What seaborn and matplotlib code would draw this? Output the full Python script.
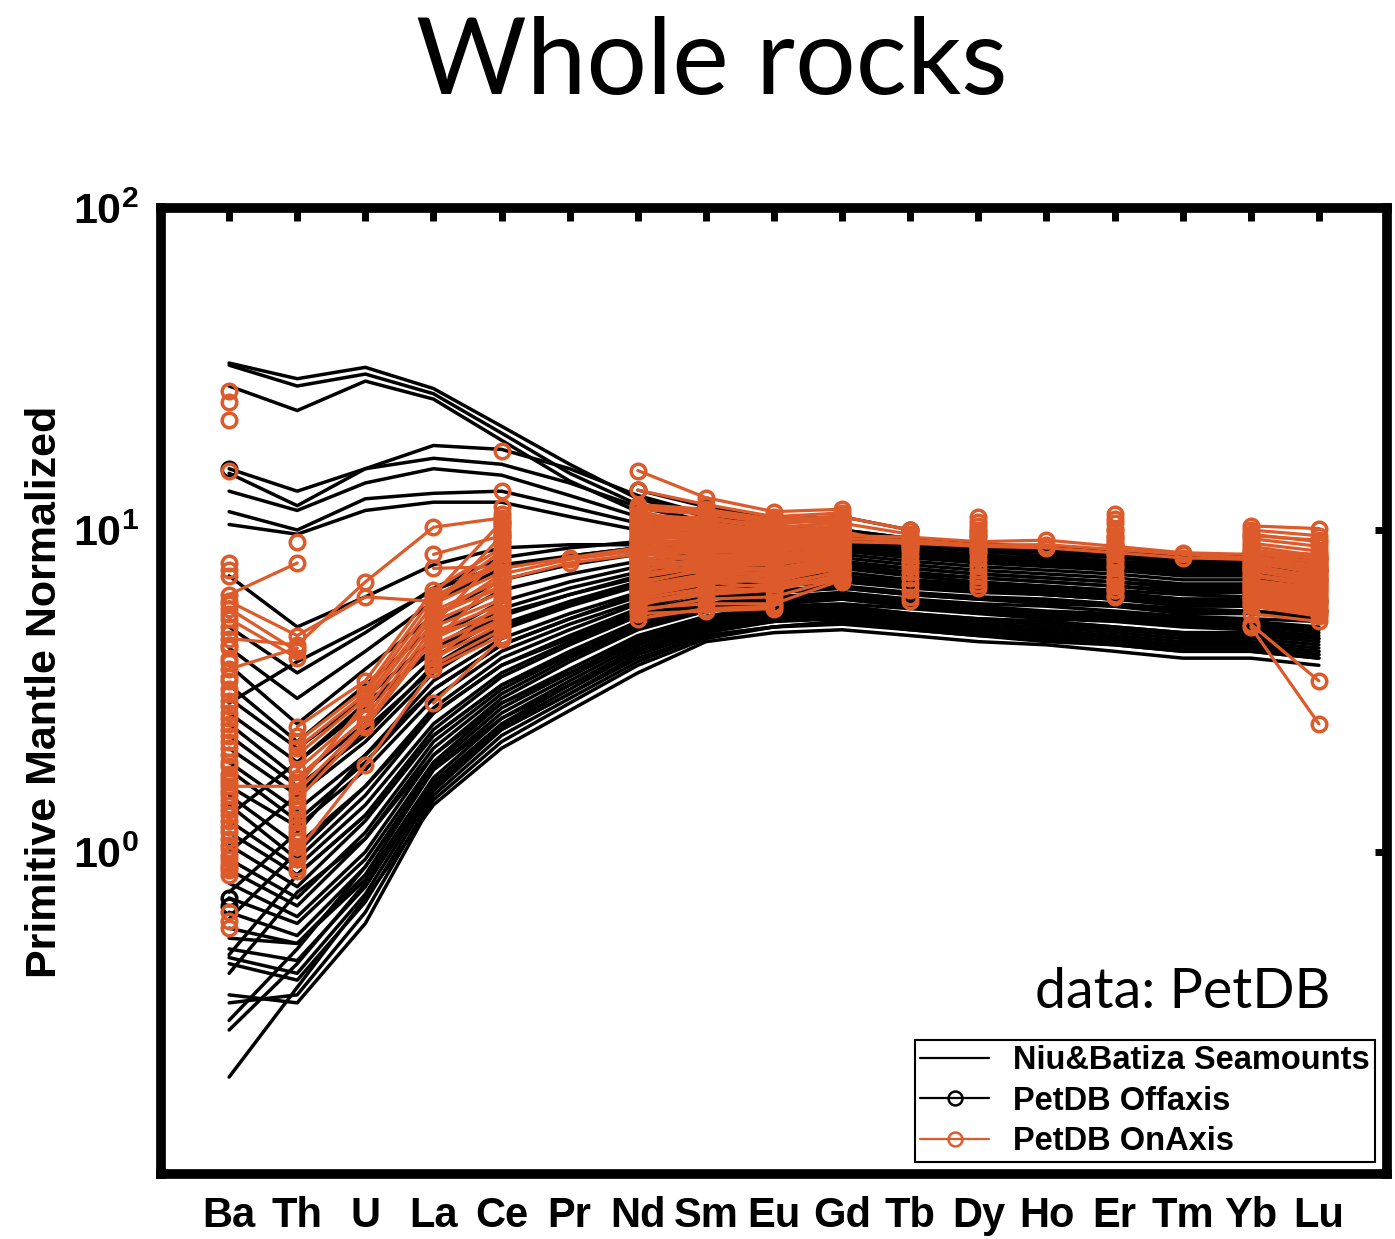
import numpy as np
import pandas as pd
import matplotlib
matplotlib.use("Agg")
import matplotlib.pyplot as plt
import seaborn as sns
from matplotlib.lines import Line2D
from matplotlib.ticker import NullLocator

elements = ["Ba", "Th", "U", "La", "Ce", "Pr", "Nd", "Sm", "Eu", "Gd",
            "Tb", "Dy", "Ho", "Er", "Tm", "Yb", "Lu"]
na = np.nan

# Niu & Batiza seamount lavas (primitive mantle normalized)
seamounts = [
    [33, 29.5, 32, 27.5, 21, 16, 12.5, 11.0, 10.2, 10.0, 9.4, 9.0, 8.7, 8.5, 8.2, 8.3, 8.1],
    [32.5, 28, 30.5, 26.5, 20, 15, 12.0, 10.6, 9.9, 9.7, 9.1, 8.8, 8.5, 8.2, 7.9, 8.0, 7.8],
    [28, 23.5, 29, 25.5, 19, 14.2, 11.4, 10.2, 9.6, 9.4, 8.9, 8.6, 8.3, 8.0, 7.7, 7.8, 7.5],
    [15.5, 13.2, 15.5, 18.3, 17.8, 15.5, 12.8, 11.2, 10.3, 10.0, 9.4, 9.1, 8.8, 8.6, 8.3, 8.4, 8.2],
    [15.0, 11.9, 15.5, 16.7, 16.0, 14.0, 11.8, 10.6, 9.9, 9.7, 9.2, 8.8, 8.6, 8.3, 8.0, 8.1, 7.9],
    [13.2, 11.5, 14.0, 15.5, 14.8, 12.8, 11.0, 10.0, 9.5, 9.4, 8.9, 8.6, 8.3, 8.0, 7.8, 7.8, 7.6],
    [11.4, 10.0, 12.5, 13.0, 13.2, 11.8, 10.5, 9.7, 9.3, 9.2, 8.7, 8.4, 8.1, 7.9, 7.6, 7.6, 7.4],
    [10.4, 9.7, 11.5, 12.2, 12.2, 11.0, 10.0, 9.4, 9.0, 8.9, 8.5, 8.2, 7.9, 7.7, 7.4, 7.4, 7.2],
    [7.2, 5.0, 6.2, 7.8, 8.8, 9.0, 9.0, 8.8, 8.6, 8.7, 8.3, 8.0, 7.8, 7.6, 7.3, 7.3, 7.1],
    [5.0, 3.6, 4.8, 6.6, 8.2, 8.8, 9.2, 9.1, 8.9, 9.0, 8.6, 8.3, 8.1, 7.9, 7.6, 7.6, 7.4],
    [4.3, 3.0, 4.2, 6.0, 7.6, 8.3, 8.8, 8.8, 8.6, 8.8, 8.4, 8.1, 7.9, 7.7, 7.4, 7.4, 7.2],
    [3.8, 2.5, 3.7, 5.4, 7.0, 7.8, 8.4, 8.5, 8.4, 8.6, 8.2, 7.9, 7.7, 7.5, 7.2, 7.2, 7.0],
    [3.3, 2.2, 3.3, 5.0, 6.5, 7.3, 8.0, 8.2, 8.2, 8.4, 8.0, 7.7, 7.5, 7.3, 7.0, 7.0, 6.8],
    [3.0, 2.1, 3.0, 4.6, 6.0, 6.9, 7.7, 8.0, 8.0, 8.2, 7.8, 7.5, 7.3, 7.1, 6.8, 6.8, 6.6],
    [2.7, 1.9, 2.8, 4.3, 5.7, 6.6, 7.4, 7.8, 7.8, 8.0, 7.6, 7.3, 7.1, 6.9, 6.6, 6.6, 6.4],
    [2.5, 1.7, 2.5, 4.0, 5.4, 6.3, 7.1, 7.5, 7.6, 7.8, 7.4, 7.1, 6.9, 6.7, 6.4, 6.4, 6.2],
    [2.3, 1.6, 2.3, 3.8, 5.1, 6.0, 6.9, 7.3, 7.4, 7.6, 7.2, 6.9, 6.7, 6.5, 6.3, 6.2, 6.0],
    [2.1, 1.5, 2.2, 3.6, 4.9, 5.8, 6.7, 7.1, 7.2, 7.4, 7.0, 6.8, 6.6, 6.4, 6.1, 6.1, 5.9],
    [1.9, 1.35, 2.0, 3.4, 4.6, 5.5, 6.4, 6.9, 7.0, 7.2, 6.9, 6.6, 6.4, 6.2, 6.0, 5.9, 5.7],
    [1.8, 1.25, 1.9, 3.2, 4.4, 5.3, 6.2, 6.7, 6.9, 7.1, 6.7, 6.5, 6.3, 6.1, 5.9, 5.8, 5.6],
    [1.6, 1.2, 1.8, 3.0, 4.2, 5.1, 6.0, 6.6, 6.8, 7.0, 6.7, 6.5, 6.3, 6.1, 5.9, 5.8, 5.7],
    [1.5, 1.05, 1.6, 2.8, 4.0, 4.9, 5.9, 6.5, 6.8, 7.1, 6.8, 6.6, 6.4, 6.3, 6.0, 6.0, 5.9],
    [1.4, 0.95, 1.5, 2.7, 3.8, 4.7, 5.7, 6.4, 6.7, 6.9, 6.6, 6.4, 6.3, 6.1, 5.8, 5.8, 5.6],
    [1.25, 0.9, 1.4, 2.5, 3.6, 4.5, 5.5, 6.2, 6.5, 6.7, 6.4, 6.2, 6.1, 5.9, 5.7, 5.6, 5.4],
    [1.15, 0.85, 1.3, 2.4, 3.5, 4.4, 5.4, 6.1, 6.4, 6.6, 6.3, 6.1, 5.9, 5.8, 5.5, 5.5, 5.3],
    [1.05, 0.78, 1.25, 2.3, 3.3, 4.2, 5.2, 5.9, 6.2, 6.4, 6.1, 5.9, 5.8, 5.6, 5.4, 5.3, 5.2],
    [0.95, 0.72, 1.15, 2.2, 3.2, 4.1, 5.1, 5.8, 6.1, 6.3, 6.0, 5.8, 5.6, 5.5, 5.3, 5.2, 5.0],
    [0.88, 0.68, 1.1, 2.1, 3.1, 4.0, 5.0, 5.7, 6.0, 6.2, 5.9, 5.7, 5.5, 5.4, 5.2, 5.1, 4.9],
    [0.8, 0.63, 1.0, 2.0, 3.0, 3.9, 4.9, 5.6, 5.9, 6.1, 5.8, 5.6, 5.4, 5.3, 5.1, 5.0, 4.8],
    [0.72, 0.6, 0.95, 1.9, 2.9, 3.7, 4.7, 5.4, 5.8, 5.9, 5.7, 5.5, 5.3, 5.2, 5.0, 4.9, 4.7],
    [0.65, 0.55, 0.9, 1.85, 2.8, 3.6, 4.6, 5.3, 5.7, 5.8, 5.5, 5.3, 5.2, 5.0, 4.8, 4.8, 4.6],
    [0.58, 0.52, 0.85, 1.8, 2.7, 3.5, 4.5, 5.2, 5.6, 5.7, 5.4, 5.2, 5.1, 4.9, 4.7, 4.7, 4.5],
    [0.54, 0.52, 0.82, 1.7, 2.6, 3.4, 4.4, 5.1, 5.5, 5.6, 5.3, 5.1, 5.0, 4.8, 4.6, 4.6, 4.4],
    [0.5, 0.46, 0.78, 1.65, 2.5, 3.3, 4.3, 5.0, 5.4, 5.5, 5.2, 5.0, 4.9, 4.7, 4.5, 4.5, 4.3],
    [0.47, 0.42, 0.74, 1.6, 2.45, 3.2, 4.2, 4.9, 5.3, 5.4, 5.1, 4.9, 4.8, 4.6, 4.4, 4.4, 4.2],
    [0.45, 0.4, 0.7, 1.55, 2.4, 3.1, 4.1, 4.8, 5.2, 5.3, 5.0, 4.8, 4.7, 4.5, 4.3, 4.3, 4.1],
    [0.36, 0.34, 0.6, 1.45, 2.2, 2.9, 3.8, 4.6, 5.0, 5.1, 4.9, 4.7, 4.5, 4.4, 4.2, 4.2, 4.0],
    [0.34, 0.36, 0.65, 1.5, 2.3, 3.0, 3.9, 4.7, 5.0, 5.2, 5.0, 4.8, 4.6, 4.5, 4.3, 4.3, 4.1],
    [0.28, 0.45, 0.8, 1.6, 2.4, 3.1, 4.0, 4.7, 5.0, 5.2, 4.9, 4.7, 4.6, 4.4, 4.2, 4.2, 4.0],
    [0.2, 0.38, 0.72, 1.4, 2.1, 2.75, 3.6, 4.5, 4.8, 4.9, 4.7, 4.5, 4.4, 4.2, 4.0, 4.0, 3.8],
    [0.42, 0.75, 1.1, 2.0, 2.9, 3.6, 4.5, 5.2, 5.6, 5.8, 5.5, 5.3, 5.2, 5.0, 4.8, 4.8, 4.6],
    [0.48, 0.85, 1.3, 2.3, 3.3, 4.1, 5.0, 5.6, 5.9, 6.1, 5.8, 5.6, 5.5, 5.3, 5.1, 5.1, 4.9],
    [0.62, 1.0, 1.6, 2.7, 3.8, 4.6, 5.6, 6.2, 6.4, 6.6, 6.3, 6.1, 6.0, 5.8, 5.6, 5.6, 5.4],
    [0.75, 1.15, 2.0, 3.2, 4.4, 5.3, 6.3, 6.8, 7.0, 7.2, 6.9, 6.7, 6.5, 6.3, 6.1, 6.1, 5.9],
    [2.9, 3.9, 5.0, 6.5, 7.8, 8.3, 8.8, 8.9, 8.7, 8.9, 8.5, 8.2, 8.0, 7.8, 7.5, 7.5, 7.3],
    [0.3, 0.5, 0.9, 1.8, 2.6, 3.3, 4.2, 4.9, 5.2, 5.4, 5.1, 4.9, 4.8, 4.6, 4.4, 4.4, 4.2],
    [1.0, 1.5, 2.4, 3.7, 5.0, 5.9, 6.8, 7.3, 7.5, 7.7, 7.3, 7.1, 6.9, 6.7, 6.5, 6.5, 6.3],
    [1.3, 1.9, 2.9, 4.2, 5.5, 6.3, 7.2, 7.6, 7.7, 7.9, 7.6, 7.3, 7.1, 6.9, 6.7, 6.7, 6.5],
]

# PetDB off-axis samples
offaxis = [
    [15.5, na, na, na, na, na, 13.3, 11.8, 10.8, 11.0, 10.0, na, na, na, na, na, na],
    [0.72, na, na, na, na, na, 6.5, 6.9, 7.0, 7.3, na, 6.8, na, 6.6, na, 6.3, 6.0],
    [0.68, na, na, na, na, na, 5.4, 5.9, 6.3, 6.9, na, 6.6, na, 6.3, na, 5.8, 5.6],
    [na, na, na, na, na, na, 9.0, 9.3, 9.2, 9.6, 9.0, 8.8, 8.2, 8.4, 8.0, 7.8, 7.5],
]

# PetDB on-axis samples
onaxis = [
    [27, na, na, na, 17.6, na, 15.3, 12.6, 11.4, 11.6, na, 11.0, na, 11.2, na, 10.3, 10.1],
    [25, na, na, na, 13.2, na, 13.3, 12.0, 11.0, 11.3, na, 10.6, na, 10.8, na, 10.0, 9.6],
    [22, na, na, na, 11.8, na, 12.0, 11.6, 10.8, 11.0, 10.0, na, na, na, na, 9.7, 9.2],
    [15.3, na, na, na, 11.2, na, 11.6, 11.2, 10.5, 10.7, na, 10.3, na, 10.5, na, 9.4, 8.9],
    [7.9, na, na, na, 10.6, na, 11.2, 10.8, 10.2, 10.5, 9.7, na, na, 10.1, na, 9.1, 8.6],
    [7.5, na, na, na, 10.2, na, 10.8, 10.5, 10.0, 10.2, na, 9.9, na, na, na, 8.9, 8.3],
    [7.2, na, na, na, 9.8, na, 10.4, 10.2, 9.8, 10.0, na, na, na, 9.6, na, 8.7, 8.1],
    [6.3, 7.9, na, na, 9.4, na, 10.1, 10.0, 9.6, 9.8, na, 9.5, na, 9.3, na, 8.5, 7.9],
    [na, 9.2, na, na, 9.1, na, 9.8, 9.8, 9.4, 9.6, na, na, na, na, na, 8.3, 7.7],
    [4.6, 4.4, 6.9, 10.2, 10.9, na, 11.8, 11.4, 10.6, 10.9, na, 10.0, na, 9.9, na, 9.6, 9.3],
    [6.0, 4.7, 6.2, 6.0, 8.6, na, 9.6, 9.6, 9.2, 9.5, na, 9.2, na, 9.0, na, 8.1, 7.5],
    [3.7, 4.3, na, 8.4, 9.6, na, 9.4, 9.5, 9.1, 9.4, na, na, na, 8.8, na, 8.0, 7.3],
    [5.7, 4.2, na, 7.6, 7.7, na, 9.1, 9.3, 9.0, 9.2, na, 8.9, na, na, na, 7.8, 7.1],
    [5.3, 4.0, na, na, 8.2, na, 8.9, 9.1, 8.8, 9.1, na, na, na, 8.6, na, 7.6, 7.0],
    [na, 2.45, 3.4, 6.5, 8.8, na, 8.7, 8.9, 8.7, 9.0, na, 8.7, na, 8.4, na, 7.5, 6.9],
    [na, 2.2, 3.2, 6.2, 8.0, na, 8.5, 8.8, 8.6, 8.9, na, na, na, na, na, 7.3, 6.8],
    [na, 2.1, 3.1, 5.9, 7.4, na, 8.3, 8.6, 8.4, 8.8, na, 8.4, na, 8.2, na, 7.2, 6.7],
    [na, 2.0, 3.0, 5.6, 7.0, na, 8.1, 8.4, 8.3, 8.7, na, na, na, 8.0, na, 7.0, 6.6],
    [1.6, 1.6, 2.9, 5.4, 6.7, na, 7.9, 8.3, 8.2, 8.6, na, 8.1, na, na, na, 6.9, 6.5],
    [na, 1.8, 2.75, 5.2, 6.4, na, 7.7, 8.1, 8.0, 8.5, na, na, na, 7.8, na, 6.8, 6.4],
    [na, 1.7, 2.6, 5.0, 6.1, na, 7.5, 8.0, 7.9, 8.4, na, 7.8, na, 7.6, na, 6.7, 6.3],
    [na, 1.55, 2.5, 4.8, 5.9, na, 7.3, 7.8, 7.8, 8.3, na, na, na, na, na, 6.6, 6.2],
    [na, 1.45, 2.45, 4.6, 5.7, na, 7.1, 7.7, 7.6, 8.2, na, 7.5, na, 7.3, na, 6.5, 6.1],
    [na, 1.35, na, 4.4, 5.5, na, 6.9, 7.5, 7.5, 8.1, na, na, na, 7.1, na, 6.4, 6.0],
    [na, 1.25, na, 4.2, 5.3, na, 6.7, 7.3, 7.3, 8.0, na, 7.2, na, na, na, 6.3, 5.9],
    [na, 1.15, na, 4.0, 5.1, na, 6.5, 7.1, 7.2, 7.8, na, na, na, 6.9, na, 6.2, 5.8],
    [na, 1.08, na, 3.8, 4.9, na, 6.3, 6.9, 7.0, 7.6, na, 7.0, na, 6.7, na, 6.1, 5.7],
    [na, 1.0, 1.86, 3.7, 4.7, na, 6.1, 6.6, 6.8, 7.4, na, na, na, 6.5, na, 6.0, 5.6],
    [na, 0.95, na, na, 4.6, na, 5.9, 6.3, 6.5, 7.2, na, 6.8, na, 6.3, na, 5.9, 5.5],
    [na, 0.9, na, na, na, na, 5.7, 5.9, 5.9, 7.0, na, na, na, na, na, 5.8, 5.4],
    [na, 0.87, na, 2.9, 4.6, na, 5.3, 5.7, 5.8, na, 6.0, na, na, na, na, 5.5, 5.2],
    [4.3, na, na, na, 10.4, na, 11.0, 10.6, 9.9, 10.1, na, 9.6, na, 9.5, na, 8.6, 8.4],
    [3.4, na, na, na, 9.9, na, 10.6, 10.3, 9.7, 9.9, 9.0, na, na, na, na, 8.4, 8.2],
    [3.1, na, na, na, 9.2, na, 10.3, 10.1, 9.5, 9.7, na, 9.7, na, 9.1, na, 8.2, 7.6],
    [2.85, na, na, na, 6.9, na, 10.0, 9.7, 9.3, 9.3, na, na, na, 8.9, na, 7.9, 7.4],
    [2.6, na, na, na, 6.3, na, 9.3, 9.2, 8.9, 9.0, na, 8.6, na, na, na, 7.7, 7.2],
    [2.4, na, na, na, 5.8, na, 8.0, 7.4, 7.3, 7.8, na, na, na, 7.0, na, 7.5, 7.0],
    [na, na, na, na, 5.4, na, 6.4, 6.9, 6.6, 7.1, na, 6.6, na, 6.5, na, 5.1, 3.4],
    [na, na, na, na, 5.0, na, 5.5, 5.6, 5.7, na, na, na, na, 6.2, na, 5.0, 2.5],
    [na, na, na, 5.3, 7.3, 8.1, 8.6, 9.0, 9.1, 9.4, 9.3, 9.0, 9.0, 8.7, 8.4, 8.2, 8.0],
    [na, na, na, na, 7.0, 7.9, 8.4, 8.8, 9.0, 9.2, 9.1, 8.9, 8.8, 8.5, 8.2, 8.1, 7.8],
    [na, na, na, na, 7.6, 8.2, 8.8, 9.2, 9.3, 9.6, 9.5, 9.2, 9.3, 8.9, 8.5, 8.4, 8.2],
]

# on-axis samples with only some elements reported
onaxis_ba = [5.9, 5.5, 5.0, 4.8, 4.4, 4.0, 3.9, 3.5, 3.2, 2.95, 2.7, 2.5, 2.3, 2.2,
             2.1, 2.0, 1.9, 1.85, 1.75, 1.7, 1.65, 1.55, 1.5, 1.45, 1.4, 1.35, 1.3,
             1.25, 1.2, 1.15, 1.1, 1.05, 1.02, 0.98, 0.95, 0.92, 0.9, 0.88, 0.85,
             0.65, 0.61, 0.58]
onaxis_th = [2.3, 1.95, 1.65, 1.5, 1.4, 1.3, 1.2, 1.12, 1.04, 0.98]
onaxis_tb = [9.4, 9.2, 8.8, 8.6, 8.3, 8.0, 7.7, 7.4, 7.1, 6.8, 6.5, 6.2, 7.9, 8.9]
onaxis_la_ce = [[6.3, 10.6], [5.7, 9.6], [5.1, 8.4], [4.5, 7.2], [3.9, 6.0],
                [4.8, 5.4], [5.5, 6.6], [6.1, 7.8], [4.2, 5.2]]
onaxis_mree = [  # Nd, Sm, Eu, Gd
    [11.5, 10.2, 9.6, 10.4], [10.8, 11.0, 10.1, 10.6], [10.2, 10.8, 10.4, 10.9],
    [9.6, 10.4, 9.9, 10.3], [9.9, 9.4, 9.5, 10.0], [9.2, 10.0, 9.2, 9.8],
    [8.8, 9.6, 9.4, 9.9], [8.4, 9.0, 8.8, 9.5], [9.4, 8.7, 8.5, 9.2],
    [8.0, 8.8, 8.6, 9.1], [7.7, 8.5, 8.9, 9.6], [7.4, 8.2, 8.0, 8.8],
    [7.1, 7.9, 7.8, 8.6], [6.8, 7.6, 7.5, 8.3], [6.6, 7.2, 7.4, 8.1],
    [6.4, 7.0, 6.9, 7.7], [6.2, 6.8, 7.1, 7.9], [6.0, 6.4, 6.6, 7.5],
    [5.8, 6.6, 6.5, 7.3], [5.6, 6.1, 6.2, 7.1], [8.6, 8.0, 8.2, 8.9],
    [10.5, 9.8, 8.9, 9.4], [9.0, 8.3, 7.9, 8.4], [8.2, 7.6, 7.2, 7.6],
    [7.9, 7.3, 6.8, 6.9],
]

orange = "#DD5A2A"


def to_long(rows, tag, start=0):
    # split each sample into runs of consecutive measured elements
    recs = []
    for i, row in enumerate(rows):
        seg = 0
        prev = False
        for j, v in enumerate(row):
            if np.isnan(v):
                prev = False
                continue
            if not prev:
                seg += 1
            recs.append((f"{tag}{i}_{seg}", j + start, v))
            prev = True
    return pd.DataFrame(recs, columns=["unit", "pos", "value"])


sm_df = to_long(seamounts, "s")
off_df = to_long(offaxis, "k")
on_df = pd.concat([
    to_long(onaxis, "o"),
    to_long([[v] for v in onaxis_ba], "b", start=0),
    to_long([[v] for v in onaxis_th], "t", start=1),
    to_long([[v] for v in onaxis_tb], "r", start=10),
    to_long(onaxis_la_ce, "c", start=3),
    to_long(onaxis_mree, "m", start=6),
], ignore_index=True)

sns.set_style("white")
plt.rcParams["font.family"] = ["Liberation Sans", "DejaVu Sans"]
plt.rcParams["text.color"] = "black"
plt.rcParams["mathtext.fontset"] = "custom"
plt.rcParams["mathtext.rm"] = "Liberation Sans"
plt.rcParams["mathtext.bf"] = "Liberation Sans:bold"

fig = plt.figure(figsize=(13.95, 12.39), dpi=100)
ax = fig.add_axes([161 / 1395, 1 - 1174 / 1239, (1387 - 161) / 1395, (1174 - 208) / 1239])
ax.set_yscale("log")

sns.lineplot(data=sm_df, x="pos", y="value", units="unit", estimator=None,
             color="black", linewidth=2.5, sort=False, legend=False, ax=ax)
sns.lineplot(data=off_df, x="pos", y="value", units="unit", estimator=None,
             color="black", linewidth=2.3, marker="o", markersize=10.5, markerfacecolor="none",
             markeredgecolor="black", markeredgewidth=2.5, sort=False, legend=False, ax=ax)
sns.lineplot(data=on_df, x="pos", y="value", units="unit", estimator=None,
             color=orange, linewidth=2.3, marker="o", markersize=10.5, markerfacecolor="none",
             markeredgecolor=orange, markeredgewidth=2.5, sort=False, legend=False, ax=ax)

ax.set_xlim(-1, 17)
ax.set_ylim(0.1, 100)
ax.set_xticks(range(len(elements)))
ax.set_xticklabels(elements, fontsize=30, fontweight="bold", color="black")
ax.set_yticks([1, 10, 100])
ax.set_yticklabels([r"$\mathbf{10^{0}}$", r"$\mathbf{10^{1}}$", r"$\mathbf{10^{2}}$"],
                   fontsize=31, color="black")
ax.yaxis.set_minor_locator(NullLocator())
ax.set_xlabel("")
ax.set_ylabel("")
ax.tick_params(axis="both", which="major", direction="in", top=True, right=True,
               length=9, width=5, color="black")
ax.tick_params(axis="x", pad=16)
ax.tick_params(axis="y", pad=16)
for sp in ax.spines.values():
    sp.set_visible(True)
    sp.set_color("black")
    sp.set_linewidth(7)

fig.text(45 / 1395, 1 - 692 / 1239, "Primitive Mantle Normalized", rotation=90,
         fontsize=31, fontweight="bold", ha="center", va="center", color="black")
fig.text(712 / 1395, 1 - 64 / 1239, "Whole rocks", fontsize=77, family="Lato",
         ha="center", va="center", color="black")
fig.text(1035 / 1395, 1 - 992 / 1239, "data: PetDB", fontsize=40, family="Lato",
         ha="left", va="center", color="black")

handles = [
    Line2D([], [], color="black", lw=1.6),
    Line2D([], [], color="black", lw=1.6, marker="o", ms=10, mfc="none", mew=1.8),
    Line2D([], [], color=orange, lw=1.6, marker="o", ms=10, mfc="none", mew=1.8),
]
labels = ["Niu&Batiza Seamounts", "PetDB Offaxis", "PetDB OnAxis"]
leg = ax.legend(handles, labels, loc="lower right",
                bbox_to_anchor=(1375 / 1395, 1 - 1162 / 1239), bbox_transform=fig.transFigure,
                borderaxespad=0, fancybox=False, framealpha=1, edgecolor="black",
                prop={"size": 23.5, "weight": "bold"}, handlelength=2.1,
                handletextpad=0.75, labelspacing=0.29, borderpad=0.15)
leg.get_frame().set_linewidth(1.5)
for t in leg.get_texts():
    t.set_color("black")

fig.savefig("out.png", dpi=100)
